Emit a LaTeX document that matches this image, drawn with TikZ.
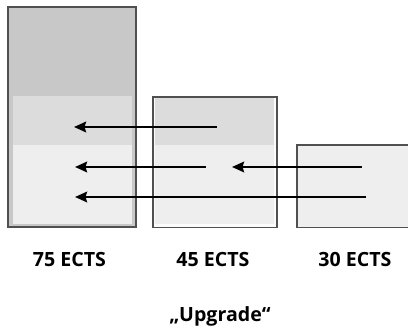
\documentclass[tikz,border=0pt]{standalone}
\usepackage{fontspec}
\setmainfont{Open Sans}
\usetikzlibrary{arrows.meta}
\definecolor{gA}{HTML}{C8C8C8}
\definecolor{gB}{HTML}{DCDCDC}
\definecolor{gC}{HTML}{EEEEEE}
\definecolor{edge}{HTML}{505050}
\begin{document}
\begin{tikzpicture}[x=1pt,y=-1pt,
  box/.style={draw=edge,line width=1.3pt,anchor=north west,inner sep=0pt,outer sep=0pt},
  region/.style={anchor=north west,inner sep=0pt,outer sep=0pt,draw=none},
  lab/.style={font=\fontsize{19.6}{22}\selectfont\bfseries,anchor=base,inner sep=0pt},
  move/.style={line width=2.6pt,-{Stealth[length=12pt,width=10.5pt,inset=1.5pt]}}]
\useasboundingbox (0,0) rectangle (408,328);
% big box (75 ECTS)
\node[box,fill=gA,minimum width=128pt,minimum height=220pt] (big) at (8,7) {};
\node[region,fill=gB,minimum width=119pt,minimum height=49pt] (bigmid) at (13,96) {};
\node[region,fill=gC,minimum width=119pt,minimum height=79pt] (biglow) at (13,145) {};
% middle box (45 ECTS)
\node[box,fill=gB!92!black!8,minimum width=124pt,minimum height=130.5pt] (mid) at (153,97) {};
\node[region,fill=gB,minimum width=119pt,minimum height=47.5pt] (midtop) at (155,97.6) {};
\node[region,fill=gC,minimum width=119pt,minimum height=79pt] (midlow) at (155,145) {};
% right box (30 ECTS)
\node[box,fill=gC,minimum width=120pt,minimum height=82.5pt] (small) at (297,145) {};
% arrows
\coordinate (s1) at (217,127); \coordinate (e1) at (74,127);
\coordinate (s2) at (206,167); \coordinate (e2) at (75,167);
\coordinate (s3) at (366,197); \coordinate (e3) at (75,197);
\coordinate (s4) at (362,167); \coordinate (e4) at (232,167);
\draw[move] (s1) -- (e1);
\draw[move] (s2) -- (e2);
\draw[move] (s3) -- (e3);
\draw[move] (s4) -- (e4);
% labels
\node[lab] (l75) at (69.5,266.7) {75 ECTS};
\node[lab] (l45) at (213,266.7) {45 ECTS};
\node[lab] (l30) at (355,266.7) {30 ECTS};
\node[lab] (up) at (220,321.7) {„Upgrade“};
\end{tikzpicture}
\end{document}
